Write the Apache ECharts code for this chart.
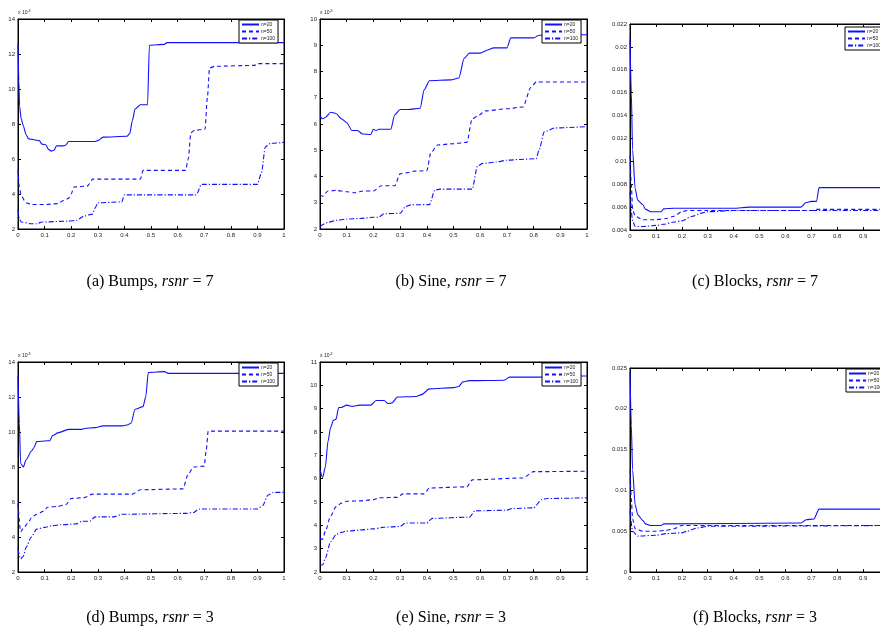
<!DOCTYPE html>
<html><head><meta charset="utf-8">
<script src="https://cdn.jsdelivr.net/npm/echarts@6/dist/echarts.min.js"></script>
<style>html,body{margin:0;padding:0;background:#fff}#c{width:880px;height:635px}</style>
</head><body><div id="c"></div>
<script>
// ---- data (x in [0,1]; bumps/sine values in units of 1e-3) ----
const seriesNames = ['n=20', 'n=50', 'n=100'];
const xTicks = [0, 1, 0.1];

const bumps7_n20 = [[0,12.6],[0.003,10.5],[0.006,9.0],[0.012,8.3],[0.02,7.9],[0.03,7.4],[0.04,7.15],[0.06,7.1],[0.08,7.05],[0.09,6.85],[0.105,6.8],[0.115,6.55],[0.125,6.45],[0.135,6.5],[0.145,6.75],[0.17,6.75],[0.18,6.8],[0.19,7.0],[0.29,7.0],[0.3,7.05],[0.32,7.25],[0.41,7.3],[0.42,7.45],[0.43,8.2],[0.44,8.85],[0.46,9.1],[0.487,9.1],[0.494,12.5],[0.55,12.55],[0.56,12.65],[1,12.65]];
const bumps7_n50 = [[0,5.4],[0.005,4.4],[0.012,3.9],[0.03,3.5],[0.05,3.4],[0.1,3.4],[0.15,3.45],[0.17,3.62],[0.19,3.75],[0.2,4.0],[0.21,4.4],[0.26,4.45],[0.27,4.6],[0.28,4.85],[0.46,4.85],[0.47,5.35],[0.63,5.35],[0.64,6.0],[0.65,7.5],[0.665,7.65],[0.703,7.7],[0.712,9.5],[0.72,11.2],[0.74,11.3],[0.89,11.35],[0.9,11.45],[1,11.45]];
const bumps7_n100 = [[0,3.1],[0.005,2.6],[0.012,2.4],[0.05,2.3],[0.07,2.3],[0.09,2.4],[0.19,2.45],[0.22,2.5],[0.25,2.75],[0.28,2.85],[0.29,3.2],[0.3,3.5],[0.39,3.55],[0.4,3.95],[0.67,3.95],[0.69,4.55],[0.9,4.55],[0.915,5.2],[0.93,6.7],[0.95,6.9],[1,6.95]];

const sine7_n20 = [[0,6.3],[0.01,6.2],[0.02,6.25],[0.04,6.45],[0.06,6.4],[0.08,6.2],[0.1,6.05],[0.12,5.75],[0.14,5.75],[0.16,5.62],[0.19,5.6],[0.2,5.8],[0.21,5.75],[0.22,5.8],[0.265,5.8],[0.28,6.35],[0.3,6.55],[0.33,6.55],[0.375,6.6],[0.39,7.3],[0.41,7.65],[0.49,7.68],[0.52,7.75],[0.54,8.5],[0.56,8.7],[0.6,8.7],[0.63,8.83],[0.65,8.9],[0.7,8.9],[0.715,9.28],[0.8,9.28],[0.82,9.38],[1,9.4]];
const sine7_n50 = [[0,3.3],[0.01,3.25],[0.03,3.45],[0.06,3.47],[0.1,3.42],[0.13,3.38],[0.16,3.45],[0.2,3.45],[0.23,3.65],[0.28,3.65],[0.3,4.1],[0.33,4.15],[0.35,4.2],[0.4,4.22],[0.415,4.9],[0.44,5.2],[0.5,5.25],[0.55,5.3],[0.57,6.2],[0.59,6.3],[0.62,6.5],[0.7,6.58],[0.76,6.65],[0.79,7.4],[0.81,7.6],[1,7.6]];
const sine7_n100 = [[0,2.1],[0.03,2.25],[0.06,2.33],[0.1,2.38],[0.15,2.4],[0.2,2.45],[0.22,2.45],[0.24,2.58],[0.3,2.6],[0.32,2.85],[0.34,2.92],[0.41,2.93],[0.43,3.48],[0.45,3.52],[0.57,3.52],[0.59,4.4],[0.61,4.5],[0.66,4.55],[0.7,4.62],[0.75,4.65],[0.81,4.68],[0.82,5.0],[0.84,5.7],[0.88,5.85],[1,5.9]];

const blocks7_n20 = [[0,0.0207],[0.005,0.016],[0.01,0.011],[0.02,0.0076],[0.03,0.0066],[0.05,0.0062],[0.06,0.0058],[0.08,0.0056],[0.12,0.0056],[0.13,0.00585],[0.17,0.0059],[0.4,0.0059],[0.46,0.006],[0.66,0.006],[0.68,0.0064],[0.7,0.0065],[0.72,0.0065],[0.73,0.0077],[1,0.0077]];
const blocks7_n50 = [[0,0.0105],[0.005,0.008],[0.01,0.0058],[0.02,0.0052],[0.05,0.0049],[0.1,0.0049],[0.14,0.005],[0.17,0.0052],[0.2,0.0056],[0.22,0.0057],[0.3,0.0057],[0.5,0.0057],[0.7,0.0057],[0.72,0.0058],[1,0.0058]];
const blocks7_n100 = [[0,0.0073],[0.01,0.0048],[0.02,0.0043],[0.05,0.0043],[0.1,0.0044],[0.13,0.0045],[0.17,0.0047],[0.2,0.0048],[0.24,0.0052],[0.28,0.0055],[0.3,0.0056],[0.4,0.0057],[1,0.0057]];

const bumps3_n20 = [[0,13.2],[0.005,10.5],[0.01,8.2],[0.02,8.0],[0.03,8.4],[0.05,8.9],[0.06,9.1],[0.07,9.45],[0.11,9.5],[0.12,9.5],[0.13,9.8],[0.15,9.95],[0.19,10.15],[0.24,10.15],[0.25,10.2],[0.29,10.25],[0.32,10.35],[0.39,10.35],[0.41,10.4],[0.425,10.5],[0.44,11.3],[0.47,11.45],[0.48,12.0],[0.49,13.4],[0.55,13.45],[0.565,13.35],[1,13.35]];
const bumps3_n50 = [[0,5.9],[0.01,4.3],[0.02,4.5],[0.04,4.85],[0.05,5.1],[0.07,5.3],[0.1,5.5],[0.11,5.7],[0.15,5.75],[0.18,5.85],[0.2,6.2],[0.25,6.25],[0.28,6.45],[0.43,6.45],[0.46,6.7],[0.62,6.75],[0.64,7.6],[0.66,8.0],[0.7,8.05],[0.708,9.0],[0.715,10.05],[1,10.05]];
const bumps3_n100 = [[0,3.3],[0.01,2.75],[0.02,2.9],[0.03,3.4],[0.05,4.0],[0.07,4.45],[0.1,4.55],[0.13,4.65],[0.16,4.7],[0.22,4.75],[0.24,4.9],[0.27,4.9],[0.29,5.15],[0.36,5.15],[0.39,5.3],[0.63,5.35],[0.66,5.4],[0.68,5.6],[0.9,5.6],[0.92,5.8],[0.94,6.4],[0.96,6.55],[1,6.55]];

const sine3_n20 = [[0,6.4],[0.01,6.05],[0.02,6.5],[0.03,7.6],[0.04,8.2],[0.05,8.5],[0.06,8.55],[0.07,9.05],[0.08,9.05],[0.1,9.15],[0.12,9.1],[0.15,9.15],[0.19,9.15],[0.21,9.35],[0.24,9.35],[0.255,9.22],[0.27,9.25],[0.29,9.5],[0.36,9.52],[0.38,9.6],[0.41,9.85],[0.5,9.9],[0.52,9.95],[0.535,10.15],[0.56,10.2],[0.69,10.22],[0.71,10.35],[0.83,10.35],[0.84,10.4],[1,10.4]];
const sine3_n50 = [[0,3.45],[0.01,3.4],[0.02,3.75],[0.04,4.4],[0.06,4.8],[0.08,4.95],[0.1,5.03],[0.15,5.05],[0.2,5.1],[0.22,5.18],[0.29,5.2],[0.31,5.35],[0.39,5.35],[0.41,5.6],[0.55,5.65],[0.57,5.95],[0.76,6.03],[0.8,6.3],[1,6.32]];
const sine3_n100 = [[0,2.3],[0.01,2.3],[0.02,2.6],[0.04,3.3],[0.06,3.6],[0.08,3.7],[0.1,3.75],[0.15,3.8],[0.2,3.85],[0.24,3.92],[0.3,3.95],[0.32,4.1],[0.4,4.1],[0.42,4.3],[0.56,4.35],[0.58,4.62],[0.7,4.65],[0.72,4.72],[0.8,4.75],[0.83,5.1],[0.85,5.15],[1,5.18]];

const blocks3_n20 = [[0,0.0245],[0.005,0.018],[0.01,0.0125],[0.02,0.0082],[0.03,0.007],[0.05,0.0063],[0.06,0.0059],[0.08,0.0057],[0.12,0.0057],[0.13,0.0059],[0.66,0.006],[0.68,0.0064],[0.71,0.0065],[0.73,0.0077],[1,0.0077]];
const blocks3_n50 = [[0,0.0125],[0.005,0.009],[0.01,0.0065],[0.02,0.0053],[0.05,0.005],[0.1,0.005],[0.14,0.0051],[0.17,0.0053],[0.2,0.0057],[1,0.0057]];
const blocks3_n100 = [[0,0.0075],[0.01,0.005],[0.03,0.0044],[0.1,0.0045],[0.14,0.0047],[0.2,0.0048],[0.22,0.005],[0.26,0.0054],[0.3,0.0056],[1,0.0057]];

// y ranges [min, max, interval]
const yRange_bumps7 = [2, 14, 2];
const yRange_sine7 = [2, 10, 1];
const yRange_blocks7 = [0.004, 0.022, 0.002];
const yRange_bumps3 = [2, 14, 2];
const yRange_sine3 = [2, 11, 1];
const yRange_blocks3 = [0, 0.025, 0.005];

const captionText = ['(a) Bumps, ', '(b) Sine, ', '(c) Blocks, ', '(d) Bumps, ', '(e) Sine, ', '(f) Blocks, '];
const captionRsnr = ['7', '7', '7', '3', '3', '3'];

// ---- layout ----
const panels = [
  {box:[18,19,266,210],  y:yRange_bumps7,  sci:true,  d:[bumps7_n20,bumps7_n50,bumps7_n100],   leg:[239,20], cap:[150,282]},
  {box:[320,19,267,210], y:yRange_sine7,   sci:true,  d:[sine7_n20,sine7_n50,sine7_n100],      leg:[542,20], cap:[451,282]},
  {box:[630,24,259,206], y:yRange_blocks7, sci:false, d:[blocks7_n20,blocks7_n50,blocks7_n100],leg:[845,27], cap:[755,282]},
  {box:[18,362,266,210], y:yRange_bumps3,  sci:true,  d:[bumps3_n20,bumps3_n50,bumps3_n100],   leg:[239,363], cap:[150,618]},
  {box:[320,362,267,210],y:yRange_sine3,   sci:true,  d:[sine3_n20,sine3_n50,sine3_n100],      leg:[542,363], cap:[451,618]},
  {box:[630,368,259,204],y:yRange_blocks3, sci:false, d:[blocks3_n20,blocks3_n50,blocks3_n100],leg:[846,369], cap:[755,618]}
];
const lineTypes = ['solid', [4,3], [5,2,1.2,2]];
const blue = '#1010ff';
const labelFont = {fontSize:6, color:'#222', fontFamily:'Liberation Sans'};

const grid=[], xAxis=[], yAxis=[], series=[], legend=[], graphic=[];
panels.forEach((p,i)=>{
  grid.push({left:p.box[0], top:p.box[1], width:p.box[2], height:p.box[3], show:true, borderColor:'#000', borderWidth:1,
    backgroundColor:'#fff', containLabel:false, outerBoundsMode:'none'});
  const xb = {gridIndex:i, type:'value', min:xTicks[0], max:xTicks[1], interval:xTicks[2],
    axisLine:{show:true, onZero:false, lineStyle:{color:'#000', width:1}},
    axisTick:{show:true, inside:true, length:3, lineStyle:{color:'#000'}},
    splitLine:{show:false}};
  xAxis.push(Object.assign({}, xb, {position:'bottom', axisLabel:Object.assign({margin:3, formatter:v=>String(+v.toFixed(1))}, labelFont)}));
  xAxis.push(Object.assign({}, xb, {position:'top', axisLabel:{show:false}}));
  const yb = {gridIndex:i, type:'value', min:p.y[0], max:p.y[1], interval:p.y[2],
    axisLine:{show:true, onZero:false, lineStyle:{color:'#000', width:1}},
    axisTick:{show:true, inside:true, length:3, lineStyle:{color:'#000'}},
    splitLine:{show:false}};
  const yl = Object.assign({}, yb, {position:'left', axisLabel:Object.assign({margin:3, formatter:v=>String(+v.toFixed(3))}, labelFont)});
  if (p.sci) {
    yl.name = 'x 10{s|-3}';
    yl.nameLocation = 'end';
    yl.nameGap = 3;
    yl.nameTextStyle = {fontSize:5, color:'#222', fontFamily:'Liberation Sans', align:'left', padding:[0,0,0,0],
      rich:{s:{fontSize:3.5, color:'#222', verticalAlign:'top', padding:[0,0,3,0]}}};
  }
  yAxis.push(yl);
  yAxis.push(Object.assign({}, yb, {position:'right', axisLabel:{show:false}}));
  p.d.forEach((arr,k)=>{
    series.push({name:seriesNames[k], type:'line', xAxisIndex:2*i, yAxisIndex:2*i, data:arr,
      showSymbol:false, symbol:'none', smooth:0.25, smoothMonotone:'x', animation:false,
      lineStyle:{color:blue, width:1.1, type:lineTypes[k]}, itemStyle:{color:blue}, z:2});
  });
  legend.push({left:p.leg[0], top:p.leg[1], orient:'vertical', data:seriesNames, itemWidth:17, itemHeight:5,
    itemGap:2, padding:[2,3,2,2], borderColor:'#000', borderWidth:1, backgroundColor:'#fff',
    itemStyle:{opacity:0, borderWidth:0},
    textStyle:{fontSize:5, color:'#222', fontFamily:'Liberation Sans', padding:[0,0,0,-3]}, selectedMode:false, z:5});
  graphic.push({type:'text', x:p.cap[0], y:p.cap[1], style:{
    text:'{n|'+captionText[i]+'}{i|rsnr}{n| = '+captionRsnr[i]+'}',
    align:'center', verticalAlign:'middle',
    rich:{n:{fontSize:16, fontFamily:'Liberation Serif', fill:'#000'},
          i:{fontSize:16, fontFamily:'Liberation Serif', fontStyle:'italic', fill:'#000'}}}});
});

const chart = echarts.init(document.getElementById('c'), null, {renderer:'canvas'});
chart.setOption({animation:false, backgroundColor:'#fff', grid, xAxis, yAxis, series, legend, graphic});
</script></body></html>
